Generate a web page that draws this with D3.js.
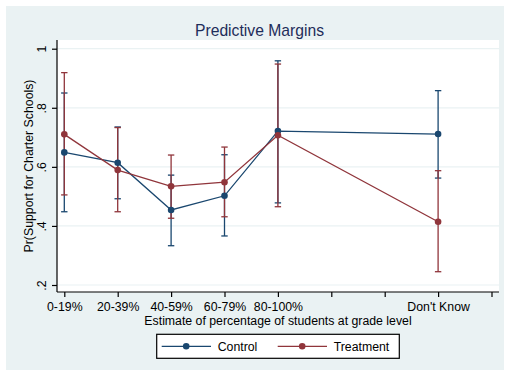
<!DOCTYPE html>
<html>
<head>
<meta charset="utf-8">
<script src="https://cdn.jsdelivr.net/npm/d3@7"></script>
<style>
  body { margin: 0; background: #fff; }
  text { font-family: "Liberation Sans", Arial, sans-serif; }
</style>
</head>
<body>
<div id="chart"></div>
<script>
const width = 507;
const height = 370;

// categories on the x axis (position 1..9, only some are labelled)
const categories = ["0-19%", "20-39%", "40-59%", "60-79%", "80-100%", "Don't Know"];
const catPos = [1, 2, 3, 4, 5, 8];
const xTicks = [1, 2, 3, 4, 5, 6, 7, 8, 9];
const yTicks = [0.2, 0.4, 0.6, 0.8, 1];

const controlMargin = [0.649, 0.614, 0.454, 0.502, 0.721, 0.711];
const controlLow    = [0.448, 0.492, 0.333, 0.366, 0.478, 0.562];
const controlHigh   = [0.850, 0.735, 0.572, 0.641, 0.959, 0.858];

const treatMargin = [0.710, 0.589, 0.534, 0.548, 0.707, 0.414];
const treatLow    = [0.505, 0.448, 0.426, 0.431, 0.465, 0.245];
const treatHigh   = [0.919, 0.733, 0.640, 0.667, 0.948, 0.587];

const navy = "#1a476f";
const maroon = "#90353b";
const panelBg = "#eaf2f3";

const series = [
  { name: "Control", color: navy, mid: controlMargin, lo: controlLow, hi: controlHigh },
  { name: "Treatment", color: maroon, mid: treatMargin, lo: treatLow, hi: treatHigh }
];

// plot region
const plot = { left: 57, right: 499, top: 40, bottom: 292 };

const x = d3.scaleLinear().domain([1, 9]).range([64.3, 491.5]);
const y = d3.scaleLinear().domain([0.2, 1]).range([285, 48.7]);

const svg = d3.select("#chart").append("svg")
  .attr("width", width)
  .attr("height", height);

// outer graph background
svg.append("rect")
  .attr("x", 6).attr("y", 6)
  .attr("width", 498).attr("height", height - 6)
  .attr("fill", panelBg);

// plot background
svg.append("rect")
  .attr("x", plot.left).attr("y", plot.top)
  .attr("width", plot.right - plot.left).attr("height", plot.bottom - plot.top)
  .attr("fill", "#fff");

// gridlines
svg.append("g")
  .selectAll("line")
  .data(yTicks)
  .join("line")
  .attr("x1", plot.left).attr("x2", plot.right)
  .attr("y1", d => y(d)).attr("y2", d => y(d))
  .attr("stroke", panelBg)
  .attr("stroke-width", 1.2);

// y axis
const yAxis = svg.append("g")
  .attr("transform", `translate(${plot.left},0)`)
  .call(d3.axisLeft(y).tickValues(yTicks).tickSize(5).tickFormat(d => d === 1 ? "1" : d3.format(".1f")(d).replace(/^0/, "")));
yAxis.select(".domain").attr("d", `M0,${plot.top}V${plot.bottom}`).attr("stroke", "#000").attr("stroke-width", 1.2);
yAxis.selectAll(".tick line").attr("stroke", "#000").attr("stroke-width", 1.2);
yAxis.selectAll(".tick text")
  .attr("x", null).attr("dy", null)
  .attr("transform", "translate(-11,0) rotate(-90)")
  .attr("text-anchor", "middle")
  .attr("dominant-baseline", "auto")
  .attr("font-size", 12.3)
  .attr("fill", "#000");

// x axis
const xAxis = svg.append("g")
  .attr("transform", `translate(0,${plot.bottom})`)
  .call(d3.axisBottom(x).tickValues(xTicks).tickSize(5).tickFormat(d => {
    const i = catPos.indexOf(d);
    return i >= 0 ? categories[i] : "";
  }));
xAxis.select(".domain").attr("d", `M${plot.left},0H${plot.right}`).attr("stroke", "#000").attr("stroke-width", 1.2);
xAxis.selectAll(".tick line").attr("stroke", "#000").attr("stroke-width", 1.2);
xAxis.selectAll(".tick text")
  .attr("y", 10)
  .attr("font-size", 12.3)
  .attr("fill", "#000");
svg.selectAll(".domain").attr("fill", "none");

// axis titles
svg.append("text")
  .attr("x", (plot.left + plot.right) / 2)
  .attr("y", 325)
  .attr("text-anchor", "middle")
  .attr("font-size", 12.3)
  .text("Estimate of percentage of students at grade level");

svg.append("text")
  .attr("transform", `translate(32.5,${(plot.top + plot.bottom) / 2}) rotate(-90)`)
  .attr("text-anchor", "middle")
  .attr("font-size", 12.3)
  .text("Pr(Support for Charter Schools)");

// title
svg.append("text")
  .attr("x", 259.5)
  .attr("y", 35.5)
  .attr("text-anchor", "middle")
  .attr("font-size", 15.7)
  .attr("fill", "#1e2d5a")
  .text("Predictive Margins");

// confidence intervals
const capW = 3.2;
series.forEach(s => {
  const g = svg.append("g");
  const rows = catPos.map((p, i) => ({ p, lo: s.lo[i], hi: s.hi[i] }));
  g.selectAll("line.ci")
    .data(rows).join("line")
    .attr("x1", d => x(d.p)).attr("x2", d => x(d.p))
    .attr("y1", d => y(d.lo)).attr("y2", d => y(d.hi))
    .attr("stroke", s.color).attr("stroke-width", 1.3);
  g.selectAll("line.capHi")
    .data(rows).join("line")
    .attr("x1", d => x(d.p) - capW).attr("x2", d => x(d.p) + capW)
    .attr("y1", d => y(d.hi)).attr("y2", d => y(d.hi))
    .attr("stroke", s.color).attr("stroke-width", 1.3);
  g.selectAll("line.capLo")
    .data(rows).join("line")
    .attr("x1", d => x(d.p) - capW).attr("x2", d => x(d.p) + capW)
    .attr("y1", d => y(d.lo)).attr("y2", d => y(d.lo))
    .attr("stroke", s.color).attr("stroke-width", 1.3);
});

// connected lines and markers
const line = d3.line().x(d => x(d.p)).y(d => y(d.v));
series.forEach(s => {
  const pts = catPos.map((p, i) => ({ p, v: s.mid[i] }));
  svg.append("path")
    .datum(pts)
    .attr("d", line)
    .attr("fill", "none")
    .attr("stroke", s.color)
    .attr("stroke-width", 1.3);
  svg.append("g").selectAll("circle")
    .data(pts).join("circle")
    .attr("cx", d => x(d.p)).attr("cy", d => y(d.v))
    .attr("r", 3.3)
    .attr("fill", s.color);
});

// legend
const legend = svg.append("g");
legend.append("rect")
  .attr("x", 156.7).attr("y", 334.3)
  .attr("width", 242.6).attr("height", 24)
  .attr("fill", "#fff")
  .attr("stroke", "#000")
  .attr("stroke-width", 1.2);
const legX = [161.7, 277.7];
series.forEach((s, i) => {
  const lx = legX[i];
  legend.append("line")
    .attr("x1", lx).attr("x2", lx + 49.3)
    .attr("y1", 346.3).attr("y2", 346.3)
    .attr("stroke", s.color).attr("stroke-width", 1.3);
  legend.append("circle")
    .attr("cx", lx + 24.5).attr("cy", 346.3)
    .attr("r", 3.3).attr("fill", s.color);
  legend.append("text")
    .attr("x", lx + 56)
    .attr("y", 350.8)
    .attr("font-size", 12.3)
    .text(s.name);
});
</script>
</body>
</html>
